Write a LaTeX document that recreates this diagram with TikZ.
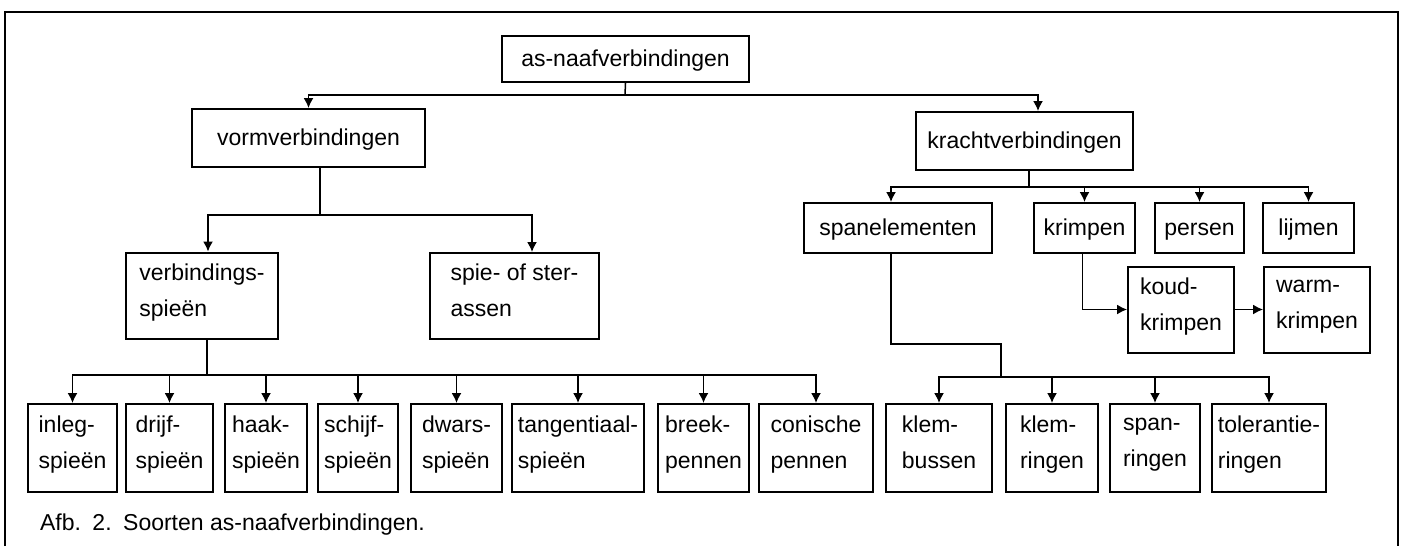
\documentclass[tikz,border=0pt]{standalone}
\usepackage{fontspec}
\setmainfont{Liberation Sans}
\usepackage{tikz}
\usetikzlibrary{arrows.meta}

\begin{document}
\begin{tikzpicture}[x=0.5pt, y=-0.5pt, font=\fontsize{11.5}{18}\selectfont]
        % Setup the style for the boxes and lines
        \tikzset{box style/.style={draw,
                                   line width=1pt,
                                   inner sep=0pt,
                                   align=left,
                                   minimum height=25pt,
                                   execute at begin node=\strut,
                                   execute at end node=\strut}}
        \tikzset{box style2/.style={box style,
                                    minimum height=43pt}}
        \tikzset{box style3/.style={box style,
                                    minimum height=44pt}}
        \tikzset{line style/.style={line width=0.75pt}}
        \tikzset{arrow style/.style={line style,
                                     -{Latex[length=5pt,width=5pt]}}}

        \useasboundingbox (0,0) rectangle (1401,546);
        % Draw the frame
        \draw[line width=0.8pt] (5,546) |- (1398,12) -- (1398,546);

        % Draw the boxes
        \node[box style, minimum width=123.5pt, minimum height=23pt] at (625.5,59) (root) {as-naafverbindingen};
        \node[box style, minimum width=116.5pt, minimum height=29pt] at (308.5,138) (vorm) {vormverbindingen};
        \node[box style, minimum width=108.5pt, minimum height=29pt] at (1024.5,141) (kracht) {krachtverbindingen};
        \node[box style2, minimum width=76pt] at (202,295.5) (verb) {verbindings-\\spieën};
        \node[box style2, minimum width=84.5pt] at (514.5,296) (spie) {spie- of ster-\\assen};
        \node[box style, minimum width=94pt] at (898,228) (spanel) {spanelementen};
        \node[box style, minimum width=50.5pt] at (1084.5,228) (krimpen) {krimpen};
        \node[box style, minimum width=44.5pt] at (1199.5,228) (persen) {persen};
        \node[box style, minimum width=45.5pt] at (1308.5,228) (lijmen) {lijmen};
        \node[box style2, minimum width=53pt] at (1181,309.5) (koud) {koud-\\krimpen};
        \node[box style2, minimum width=53pt] at (1317,310) (warm) {warm-\\krimpen};
        \node[box style3, minimum width=44.5pt] at (72.5,448) (inleg) {inleg-\\spieën};
        \node[box style3, minimum width=43.5pt] at (169.5,448) (drijf) {drijf-\\spieën};
        \node[box style3, minimum width=41pt] at (266,448) (haak) {haak-\\spieën};
        \node[box style3, minimum width=40pt] at (358,448) (schijf) {schijf-\\spieën};
        \node[box style3, minimum width=45.5pt] at (456.5,448) (dwars) {dwars-\\spieën};
        \node[box style3, minimum width=66pt] at (578,448) (tang) {tangentiaal-\\spieën};
        \node[box style3, minimum width=45.5pt] at (703.5,448) (breek) {breek-\\pennen};
        \node[box style3, minimum width=57pt] at (816,448) (conisch) {conische\\pennen};
        \node[box style3, minimum width=53pt] at (939,448) (klembus) {klem-\\bussen};
        \node[box style3, minimum width=46pt] at (1052,448) (klemring) {klem-\\ringen};
        \node[box style3, minimum width=45pt] at (1155,448) (spanring) {span-\\ringen};
        \node[box style3, minimum width=57pt] at (1269,448) (toler) {tolerantie-\\ringen};
        \node[anchor=west] at (33,525) (caption) {Afb.\enspace 2.\enspace Soorten as-naafverbindingen.};

        % Connect the boxes with arrows
        \coordinate (bus1) at (625,95);
        \coordinate (bus2) at (320,215);
        \coordinate (bus3) at (207,375);
        \coordinate (bus4) at (1029,187);
        \coordinate (knik) at (1001,344);
        \coordinate (bus5) at (1001,377);

        \draw[line style] (root.south) -- (bus1);
        \draw[arrow style] (bus1) -| (vorm.north);
        \draw[arrow style] (bus1) -| ([xshift=6.75pt]kracht.north);

        \draw[line style] ([xshift=5.75pt]vorm.south) -- (bus2);
        \draw[arrow style] (bus2) -| ([xshift=3pt]verb.north);
        \draw[arrow style] (bus2) -| ([xshift=8.75pt]spie.north);

        \draw[line style] ([xshift=2.5pt]verb.south) -- (bus3);
        \foreach \n in {inleg,drijf,haak,schijf,dwars,tang,breek,conisch}
            \draw[arrow style] (bus3) -| (\n.north);

        \draw[line style] ([xshift=2.25pt]kracht.south) -- (bus4);
        \draw[arrow style] (bus4) -| ([xshift=-3.5pt]spanel.north);
        \foreach \n in {krimpen,persen,lijmen}
            \draw[arrow style] (bus4) -| (\n.north);

        \draw[line style] ([xshift=-3.5pt]spanel.south) |- (knik) -- (bus5);
        \foreach \n in {klembus,klemring,spanring,toler}
            \draw[arrow style] (bus5) -| (\n.north);

        \draw[arrow style] ([xshift=-1pt]krimpen.south) |- (koud.west);
        \draw[arrow style] (koud.east) -- (koud.east -| warm.west);
\end{tikzpicture}
\end{document}
